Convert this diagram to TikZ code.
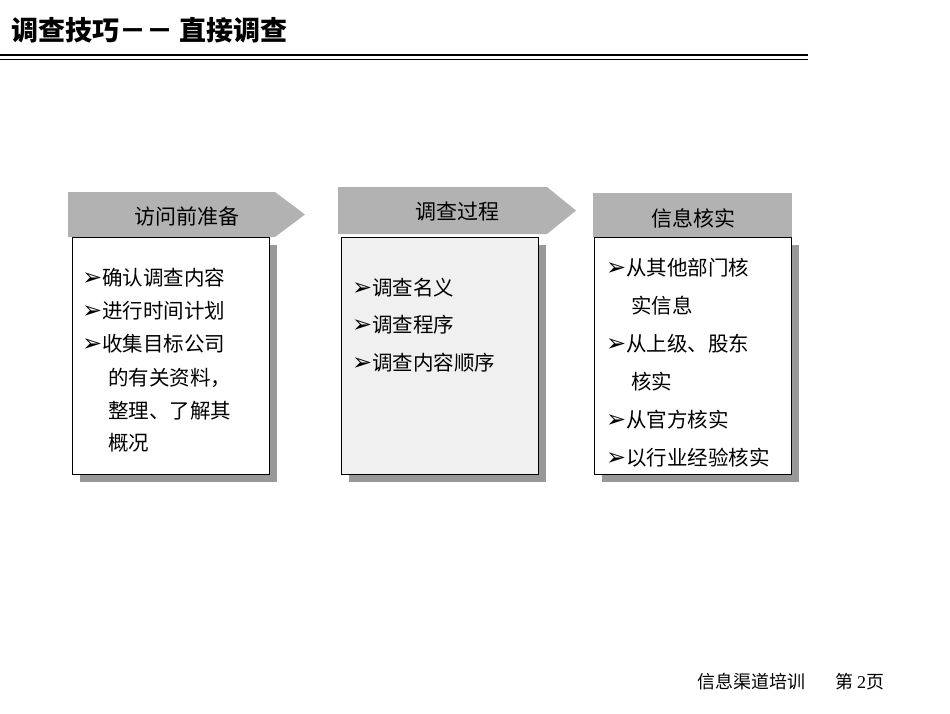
\documentclass[tikz,border=0pt]{standalone}
\usepackage{fontspec}
\setmainfont{Liberation Serif}
\newfontfamily\cjk{Noto Sans CJK SC}
\newfontfamily\dingfont{DejaVu Sans}
\newcommand\bul{\raisebox{0.5pt}{\dingfont\fontsize{24}{24}\selectfont ➢}}
\definecolor{hdrgray}{HTML}{B2B2B2}
\definecolor{shgray}{HTML}{989898}
\definecolor{lightfill}{HTML}{F0F0F0}
\begin{document}
\begin{tikzpicture}[x=1pt,y=-1pt]
\tikzset{
 hdr/.style={fill=hdrgray, draw=none},
 shadowbox/.style={fill=shgray, draw=none},
 card/.style={draw=black, line width=1pt},
 hdrtext/.style={font=\cjk\fontsize{21}{24}\selectfont, text=black, inner sep=0pt},
 item/.style={font=\cjk\fontsize{20.5}{24}\selectfont, anchor=west, inner sep=0pt},
}
\fill[white] (0,0) rectangle (950,713);
\useasboundingbox (0,0) rectangle (950,713);
% title
\node[anchor=west, inner sep=0pt, font=\cjk\bfseries\fontsize{27}{30}\selectfont] (title) at (11,30) {调查技巧－－ 直接调查};
\draw[line width=1.5pt] (0,55) -- (808,55);
\draw[line width=1.2pt] (0,59.5) -- (808,59.5);
% box 1
\fill[hdr] (68,192) -- (275,192) -- (305,214.5) -- (275,237) -- (68,237) -- cycle;
\fill[shadowbox] (80,245) rectangle (277,482);
\draw[card, fill=white] (72,237) rectangle (269,474);
\node[hdrtext] (h1) at (187,216) {访问前准备};
\node[item] (a1) at (82,278) {\bul 确认调查内容};
\node[item] (a2) at (82,311) {\bul 进行时间计划};
\node[item] (a3) at (82,344) {\bul 收集目标公司};
\node[item] (a4) at (108,378) {的有关资料，};
\node[item] (a5) at (108,411) {整理、了解其};
\node[item] (a6) at (108,443) {概况};
% box 2
\fill[hdr] (338,187) -- (547,187) -- (576,210.5) -- (547,234) -- (338,234) -- cycle;
\fill[shadowbox] (349,245) rectangle (546,482);
\draw[card, fill=lightfill] (341,237) rectangle (538,474);
\node[hdrtext] (h2) at (457,212) {调查过程};
\node[item] (b1) at (352,288) {\bul 调查名义};
\node[item] (b2) at (352,325) {\bul 调查程序};
\node[item] (b3) at (352,363) {\bul 调查内容顺序};
% box 3
\fill[hdr] (593,193) rectangle (792,237);
\fill[shadowbox] (602,245) rectangle (799,482);
\draw[card, fill=white] (594,237) rectangle (791,474);
\node[hdrtext] (h3) at (693,218) {信息核实};
\node[item] (c1) at (606,268) {\bul 从其他部门核};
\node[item] (c2) at (631,306) {实信息};
\node[item] (c3) at (606,344) {\bul 从上级、股东};
\node[item] (c4) at (631,382) {核实};
\node[item] (c5) at (606,420) {\bul 从官方核实};
\node[item] (c6) at (606,458) {\bul 以行业经验核实};
% footer
\node[anchor=west, inner sep=0pt, font=\cjk\fontsize{18}{20}\selectfont] (foot) at (697,682) {信息渠道培训};
\node[anchor=west, inner sep=0pt, font=\cjk\fontsize{18}{20}\selectfont] (page) at (835,682) {第 {\rmfamily 2}页};
\end{tikzpicture}
\end{document}
